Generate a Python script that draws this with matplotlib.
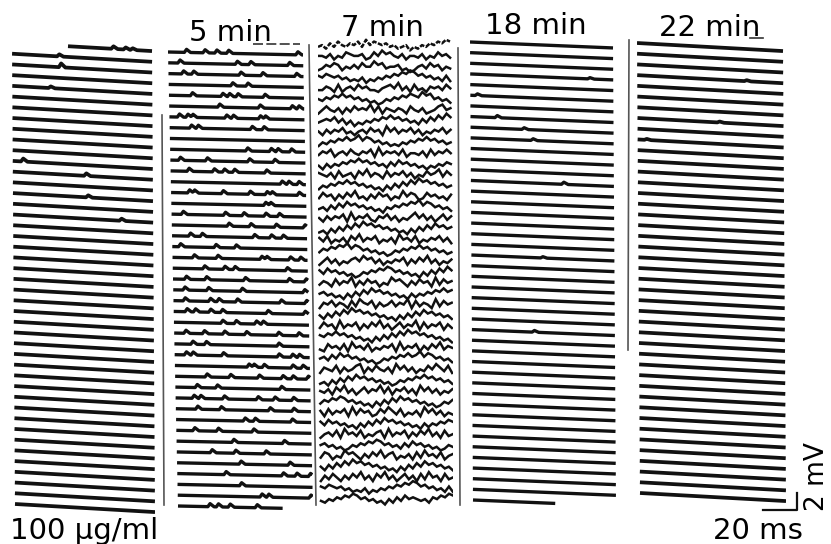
import numpy as np
import matplotlib.pyplot as plt

W, H = 831, 544
plt.rcParams['font.family'] = ['DejaVu Sans']

# ---- data ----
panel_titles = ['', '5 min', '7 min', '18 min', '22 min']
sweep_ms = 80
n_traces = [44, 43, 43, 44, 43]
drift_mv = [-0.95, -0.35, 0.0, -0.7, -0.95]     # baseline drift across one sweep
first_start_ms = [32, 0, 0, 0, 0]                # top sweep starts late in control
last_end_ms = [80, 62, 80, 46, 80]               # bottom sweep cut short

# control: (row, time ms, amplitude mV)
bumps_control = [(0, 58, .3), (0, 65, .25), (0, 69, .2), (1, 27, .25), (2, 28, .45),
                 (4, 22, .2), (11, 6, .35), (12, 42, .3), (14, 43, .25), (16, 62, .25)]

# 5 min: spike times (ms) per sweep
spikes_5min = [
    [11, 22, 29, 36, 77], [7, 41, 49, 72], [9, 15, 43, 56, 76], [38, 47],
    [14, 32, 36, 41, 57], [30, 54, 73, 77], [6, 11, 14, 34, 38, 54, 57], [13, 17, 49, 56],
    [], [46, 60, 64, 72], [6, 22, 47, 62], [11, 26, 32, 38, 57],
    [66, 70, 76], [11, 14, 31, 47, 57, 60, 76], [56, 59], [7, 32, 43, 56, 64],
    [34, 47, 62, 79], [11, 18, 49, 59, 66], [5, 26, 38], [13, 27, 53, 56, 70, 76],
    [19, 31, 37, 68], [8, 20, 43, 69, 79], [7, 21, 41, 78], [7, 22, 27, 38, 64, 79],
    [8, 13, 22, 29, 56, 78], [29, 37, 49, 53], [7, 18, 30, 43, 62, 74], [11, 19, 62],
    [7, 11, 29, 62, 70, 74], [44, 47, 53, 70, 76], [19, 33, 50, 64, 70, 79], [13, 25, 63],
    [11, 15, 29, 49, 59, 70], [13, 27, 56, 70], [41, 47, 69], [11, 25, 46],
    [34, 64], [21, 35, 53], [38, 67], [29, 63, 71, 79], [38], [50, 54, 79],
    [19, 24, 31, 47],
]
spike_amp_5min = 0.36

# 7 min: sampled levels per sweep (digit = level step)
waves_7min = [
    "4536475465748576564534524354657687", "5546354765563475867546355463547564",
    "3465763546475586745563423564756354", "6576564534352435465768798675645363",
    "4465373564756443567584637453656475", "5465768675645342354657687697856453",
    "3575463647565847365465375463457856", "4565746352435465768675645364758697",
    "5364657453564756385746574635465746", "3546576867968756453435465768675645",
    "4657356475465738465647355463746575", "4253546576867564536475645342435465",
    "6546374563758465374657463547568475", "3546576867564534253647586978675645",
    "4756364758453647563548576347564536", "4536475867564534254657687968756453",
    "5364657384657436574635468574635746", "3425364758697867564534253647586756",
    "6473546375846573546385647354657463", "4657687968756453423546576867564534",
    "3574635467586746354657364758463546", "6475645342354657687564534253647586",
    "4653746583647563548675364756384756", "5645342536475867564534253546576867",
    "3657465374865736457465837465384756", "5364758697867564534253647586756453",
    "4756384657364758463574658374657364", "6576867564534253647586978675645342",
    "4375647385647354657384657364758465", "5647586756453423546576867968756453",
    "3654736457836475463857463547586473", "3425364758675645342354657686756453",
    "5463758463574658473657463857463546", "4657687564534253647586756453423546",
    "6374657384756347586473546385746354", "6475645342536475867564534253546576",
    "3564738564735467384657364758463745", "5645342354657687564536475645342354",
    "4763548675364758467354637485647356", "5364758697867564534253647586756453",
    "3647536475846375846357463748563745", "6576564534352435465768798675645363",
    "4354657687564534253647565453657687",
]
wave_step_mv = 0.21

bumps_18min = [(3, 67, .15), (5, 4, .2), (7, 15, .25), (8, 30, .2), (9, 35, .2),
               (13, 52, .25), (20, 40, .15), (27, 35, .2)]
bumps_22min = [(3, 60, .12), (7, 45, .12), (9, 5, .12)]

# ---- layout (pixels): x0, x1, first row y, last row y, scan skew ----
panel_px = [(12, 152, 43, 504, 3), (168, 303, 52, 506, 10), (318, 450, 46, 500, 3),
            (470, 613, 42, 500, 3), (637, 783, 43, 493, 3)]
title_px = [None, (230, 41), (382, 36), (536, 34), (710, 36)]
px_per_mv = 8.5
pad = 16


def sweep(t0, t1, drift, bumps, width=(1.3, 2.4)):
    xs = [t0, t1]
    for t, a in bumps:
        xs += [t - width[0], t, t + width[1]]
    xs = np.array(sorted(x for x in set(xs) if t0 <= x <= t1))
    ys = drift * xs / sweep_ms
    for t, a in bumps:
        up = np.clip((xs - (t - width[0])) / width[0], 0, None)
        down = np.clip(((t + width[1]) - xs) / width[1], 0, None)
        ys += a * np.minimum(np.minimum(up, down), 1)
    return xs, ys


fig = plt.figure(figsize=(W / 100, H / 100), dpi=100)

for p in range(5):
    x0, x1, yt, yb, skew = panel_px[p]
    ax = fig.add_axes([x0 / W, 1 - (yb + pad) / H, (x1 - x0 + skew) / W, (yb - yt + 2 * pad) / H])
    ax.set_xlim(0, sweep_ms * (x1 - x0 + skew) / (x1 - x0))
    ax.set_ylim(-(yb - yt + pad) / px_per_mv, pad / px_per_mv)
    ax.axis('off')
    n = n_traces[p]
    gap = (yb - yt) / (n - 1) / px_per_mv
    for i in range(n):
        off = -i * gap
        shift = skew / (x1 - x0) * sweep_ms * i / (n - 1)
        t0 = first_start_ms[p] if i == 0 else 0
        t1 = last_end_ms[p] if i == n - 1 else sweep_ms
        if p == 2:
            s = waves_7min[i]
            ys = np.array([int(c) for c in s]) - 4.5
            xs = np.linspace(0, sweep_ms, len(s))
            ax.plot(xs + shift, ys * wave_step_mv + off, color='#111', lw=1.8,
                    ls=(0, (2, 0.6)) if i == 0 else '-', solid_joinstyle='miter')
            continue
        if p == 1:
            bumps = [(t, spike_amp_5min) for t in spikes_5min[i]]
        elif p == 0:
            bumps = [(t, a) for r, t, a in bumps_control if r == i]
        elif p == 3:
            bumps = [(t, a) for r, t, a in bumps_18min if r == i]
        else:
            bumps = [(t, a) for r, t, a in bumps_22min if r == i]
        xs, ys = sweep(t0, t1, drift_mv[p], bumps)
        lw = 2.7 if p in (0, 4) else 2.4
        ax.plot(xs + shift, ys + off, color='#111', lw=lw, solid_capstyle='butt')
    if title_px[p]:
        tx, ty = title_px[p]
        fig.text(tx / W, 1 - ty / H, panel_titles[p], fontsize=21, ha='center', va='baseline')

# separators between panels and small marks of the original print
deco = fig.add_axes([0, 0, 1, 1], zorder=-1)
deco.set_xlim(0, W)
deco.set_ylim(H, 0)
deco.axis('off')
for xa, ya, xb, yb2 in [(162, 115, 164, 505), (309, 45, 316, 505), (458, 48, 460, 505), (629, 40, 628, 350)]:
    deco.plot([xa, xb], [ya, yb2], color='#555', lw=1.2)
deco.plot([253, 300], [44, 44], color='#333', lw=1.2, ls=(0, (6, 2)))
deco.plot([750, 763], [38, 38], color='#333', lw=1.2)

# calibration bar: 20 ms, 2 mV
bar = fig.add_axes([763 / W, 1 - 510 / H, 34 / W, 17 / H])
bar.set_xlim(0, 20)
bar.set_ylim(0, 2)
bar.axis('off')
bar.plot([0, 20, 20], [0, 0, 2], color='#111', lw=1.6, clip_on=False)

fig.text(10 / W, 1 - 539 / H, '100 µg/ml', fontsize=21, ha='left', va='baseline')
fig.text(803 / W, 1 - 539 / H, '20 ms', fontsize=21, ha='right', va='baseline')
fig.text(817 / W, 1 - 477 / H, '2 mV', fontsize=19, rotation=90, ha='center', va='center')

fig.savefig('out.png', dpi=100)
